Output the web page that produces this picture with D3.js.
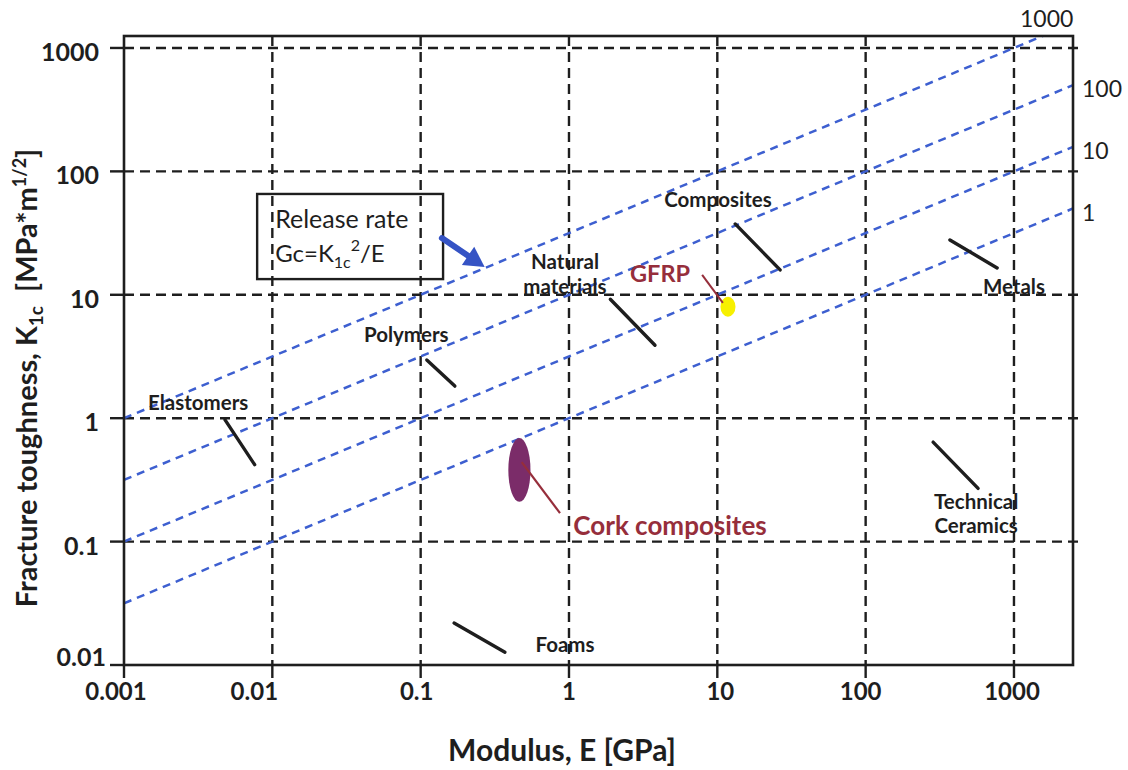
<!DOCTYPE html>
<html>
<head>
<meta charset="utf-8">
<script src="https://cdn.jsdelivr.net/npm/d3@7/dist/d3.min.js"></script>
<style>
  html, body { margin: 0; padding: 0; background: #fff; }
  svg { display: block; font-family: Lato, "Open Sans", "DejaVu Sans", sans-serif; }
</style>
</head>
<body>
<svg id="chart" width="1128" height="770"></svg>
<script>
// Axis ticks (log-log Ashby-type chart)
const xTickValues = [0.001, 0.01, 0.1, 1, 10, 100, 1000];
const xTickLabels = ["0.001", "0.01", "0.1", "1", "10", "100", "1000"];
const yTickValues = [0.01, 0.1, 1, 10, 100, 1000];
const yTickLabels = ["0.01", "0.1", "1", "10", "100", "1000"];

// Guide lines of constant energy release rate Gc = K1c^2 / E
const gcValues = [1, 10, 100, 1000];

// Material families: range segment end points (E in GPa, K1c in MPa*m^1/2)
const materialNames = ["Elastomers", "Polymers", "Natural materials", "Composites", "Metals", "Technical Ceramics", "Foams"];
const segE1 = [0.0048, 0.11, 1.9, 13.2, 370, 285, 0.168];
const segK1 = [0.97, 2.96, 9.2, 37.5, 27.8, 0.64, 0.0219];
const segE2 = [0.0076, 0.17, 3.8, 26.5, 770, 573, 0.37];
const segK2 = [0.42, 1.82, 3.9, 15.9, 16.5, 0.27, 0.0127];
// Label anchor (centre of first text line) for each family
const labelE = [0.00316, 0.080, 0.94, 10.1, 1000, 556, 0.94];
const labelK = [1.33, 4.72, 18.4, 58.6, 11.6, 0.21, 0.0145];

// Cork composites region and GFRP point
const corkE = [0.39, 0.55];
const corkK = [0.21, 0.69];
const gfrpE = 11.8;
const gfrpK = 8.0;

const svg = d3.select("#chart");
const pLeft = 124, pRight = 1073, pTop = 36, pBottom = 665;

const x = d3.scaleLog().domain([0.001, 2500]).range([pLeft, pRight]);
const y = d3.scaleLog().domain([0.01, 1250]).range([pBottom, pTop]);

const black = "#1e1e1e";
const blue = "#3d5fd0";
const darkRed = "#962e3b";

svg.append("rect").attr("width", 1128).attr("height", 770).attr("fill", "#fff");

svg.append("defs").append("clipPath").attr("id", "plotClip")
  .append("rect").attr("x", pLeft).attr("y", pTop).attr("width", pRight - pLeft).attr("height", pBottom - pTop);

// Dashed grid
const grid = svg.append("g").attr("stroke", black).attr("stroke-width", 2.4).attr("stroke-dasharray", "10,6").attr("fill", "none");
grid.selectAll("line.v").data(xTickValues.slice(1)).join("line").attr("class", "v")
  .attr("x1", d => x(d)).attr("x2", d => x(d)).attr("y1", pTop).attr("y2", pBottom);
grid.selectAll("line.h").data(yTickValues.slice(1)).join("line").attr("class", "h")
  .attr("x1", pLeft).attr("x2", pRight + 8).attr("y1", d => y(d)).attr("y2", d => y(d));

// Gc guide lines: K = sqrt(Gc * E)
const eSamples = [0.001, 2500];
const gcLine = d3.line().x(d => x(d[0])).y(d => y(d[1]));
const gcG = svg.append("g").attr("clip-path", "url(#plotClip)");
gcValues.forEach(g => {
  gcG.append("path")
    .attr("d", gcLine(eSamples.map(e => [e, Math.sqrt(g * e)])))
    .attr("fill", "none").attr("stroke", blue).attr("stroke-width", 2.5)
    .attr("stroke-dasharray", "8,6");
});
// Gc labels on the right / top edge
gcValues.forEach(g => {
  const kAtRight = Math.sqrt(g * 2500);
  const t = svg.append("text").text(g).attr("font-size", 23).attr("fill", black);
  if (kAtRight > 1250) {
    const eTop = 1250 * 1250 / g;
    t.attr("x", x(eTop) + 4).attr("y", pTop - 9).attr("text-anchor", "middle");
  } else {
    t.attr("x", pRight + 9).attr("y", y(kAtRight) + 12).attr("text-anchor", "start");
  }
});

// Frame
svg.append("rect").attr("x", pLeft).attr("y", pTop).attr("width", pRight - pLeft).attr("height", pBottom - pTop)
  .attr("fill", "none").attr("stroke", black).attr("stroke-width", 2.6);

// Outer tick marks
svg.append("g").selectAll("line").data(yTickValues).join("line")
  .attr("x1", pLeft - 14).attr("x2", pLeft).attr("y1", d => y(d)).attr("y2", d => y(d))
  .attr("stroke", black).attr("stroke-width", 2.4);
svg.append("g").selectAll("line").data(xTickValues).join("line")
  .attr("x1", d => x(d)).attr("x2", d => x(d)).attr("y1", pBottom).attr("y2", pBottom + 13)
  .attr("stroke", black).attr("stroke-width", 2.4);

// Tick labels
const xNudge = [-8, -18, -4, 0, 3, -5, -2];
svg.append("g").selectAll("text").data(xTickValues).join("text")
  .attr("x", (d, i) => x(d) + xNudge[i]).attr("y", 700)
  .attr("text-anchor", "middle").attr("font-weight", "bold").attr("font-size", 24).attr("fill", black)
  .text((d, i) => xTickLabels[i]);
svg.append("g").selectAll("text").data(yTickValues).join("text")
  .attr("x", (d, i) => i === 0 ? 106 : 99)
  .attr("y", (d, i) => (i === 0 ? y(d) - 8 : y(d) + 4) + 9)
  .attr("text-anchor", "end").attr("font-weight", "bold").attr("font-size", 25).attr("fill", black)
  .text((d, i) => yTickLabels[i]);

// Axis titles
svg.append("text").attr("x", 562).attr("y", 761).attr("text-anchor", "middle")
  .attr("font-weight", "bold").attr("font-size", 30).attr("fill", black).text("Modulus, E [GPa]");

const yTitle = svg.append("text").attr("transform", "translate(37,378) rotate(-90)")
  .attr("text-anchor", "middle").attr("font-weight", "bold").attr("font-size", 29).attr("fill", black);
yTitle.append("tspan").text("Fracture toughness, K");
yTitle.append("tspan").text("1c").attr("font-size", 19).attr("dy", 6);
yTitle.append("tspan").text("\u00a0\u00a0[MPa*m").attr("dy", -6);
yTitle.append("tspan").text("1/2").attr("font-size", 18).attr("dy", -11);
yTitle.append("tspan").text("]").attr("dy", 11);

// Material family range segments
svg.append("g").selectAll("line").data(materialNames).join("line")
  .attr("x1", (d, i) => x(segE1[i])).attr("y1", (d, i) => y(segK1[i]))
  .attr("x2", (d, i) => x(segE2[i])).attr("y2", (d, i) => y(segK2[i]))
  .attr("stroke", black).attr("stroke-width", 3.4).attr("stroke-linecap", "round");

// Material family labels (split on spaces into stacked lines)
materialNames.forEach((name, i) => {
  name.split(" ").forEach((ln, j) => {
    svg.append("text").attr("text-anchor", "middle").attr("font-weight", "bold")
      .attr("font-size", 20.5).attr("fill", black)
      .attr("x", x(labelE[i])).attr("y", y(labelK[i]) + 7 + j * 24.5).text(ln);
  });
});

// Cork composites region
const cx = Math.sqrt(corkE[0] * corkE[1]), cy = Math.sqrt(corkK[0] * corkK[1]);
svg.append("ellipse")
  .attr("cx", x(cx)).attr("cy", y(cy))
  .attr("rx", (x(corkE[1]) - x(corkE[0])) / 2).attr("ry", (y(corkK[0]) - y(corkK[1])) / 2)
  .attr("fill", "#7b2c69");
svg.append("line").attr("x1", x(0.48)).attr("y1", y(0.44)).attr("x2", x(0.87)).attr("y2", y(0.17))
  .attr("stroke", darkRed).attr("stroke-width", 2.2);
svg.append("text").attr("x", x(1.07)).attr("y", y(0.113)).attr("font-size", 26).attr("font-weight", "bold")
  .attr("fill", darkRed).text("Cork composites");

// GFRP point
svg.append("ellipse").attr("cx", x(gfrpE)).attr("cy", y(gfrpK)).attr("rx", 7.5).attr("ry", 10)
  .attr("fill", "#f7f000");
svg.append("line").attr("x1", x(7.9)).attr("y1", y(14.5)).attr("x2", x(10.9)).attr("y2", y(8.6))
  .attr("stroke", darkRed).attr("stroke-width", 2);
svg.append("text").attr("x", x(2.58)).attr("y", y(12.7)).attr("font-size", 23.5).attr("font-weight", "bold")
  .attr("fill", darkRed).text("GFRP");

// Release-rate note box
const bx0 = x(0.0079), bx1 = x(0.1416), by0 = y(65.6), by1 = y(13.4);
svg.append("rect").attr("x", bx0).attr("y", by0).attr("width", bx1 - bx0).attr("height", by1 - by0)
  .attr("fill", "none").attr("stroke", black).attr("stroke-width", 2.4);
svg.append("text").attr("x", bx0 + 18).attr("y", by0 + 34).attr("font-size", 25).attr("fill", black)
  .text("Release rate");
const f = svg.append("text").attr("x", bx0 + 18).attr("y", by0 + 68).attr("font-size", 24).attr("fill", black);
f.append("tspan").text("Gc=K");
f.append("tspan").text("1c").attr("font-size", 16).attr("dy", 6);
f.append("tspan").text("2").attr("font-size", 16).attr("dy", -17);
f.append("tspan").text("/E").attr("dy", 11);

// Blue arrow pointing at the guide lines
const ax0 = x(0.139), ay0 = y(28.8), ax1 = x(0.27), ay1 = y(16.8);
const ang = Math.atan2(ay1 - ay0, ax1 - ax0);
svg.append("line").attr("x1", ax0).attr("y1", ay0)
  .attr("x2", ax1 - 10 * Math.cos(ang)).attr("y2", ay1 - 10 * Math.sin(ang))
  .attr("stroke", "#3553c4").attr("stroke-width", 6).attr("stroke-linecap", "round");
const hl = 20, hw = 11;
const bxh = ax1 - hl * Math.cos(ang), byh = ay1 - hl * Math.sin(ang);
svg.append("path")
  .attr("d", `M${ax1},${ay1} L${bxh + hw * Math.sin(ang)},${byh - hw * Math.cos(ang)} L${bxh - hw * Math.sin(ang)},${byh + hw * Math.cos(ang)} Z`)
  .attr("fill", "#3553c4");
</script>
</body>
</html>
